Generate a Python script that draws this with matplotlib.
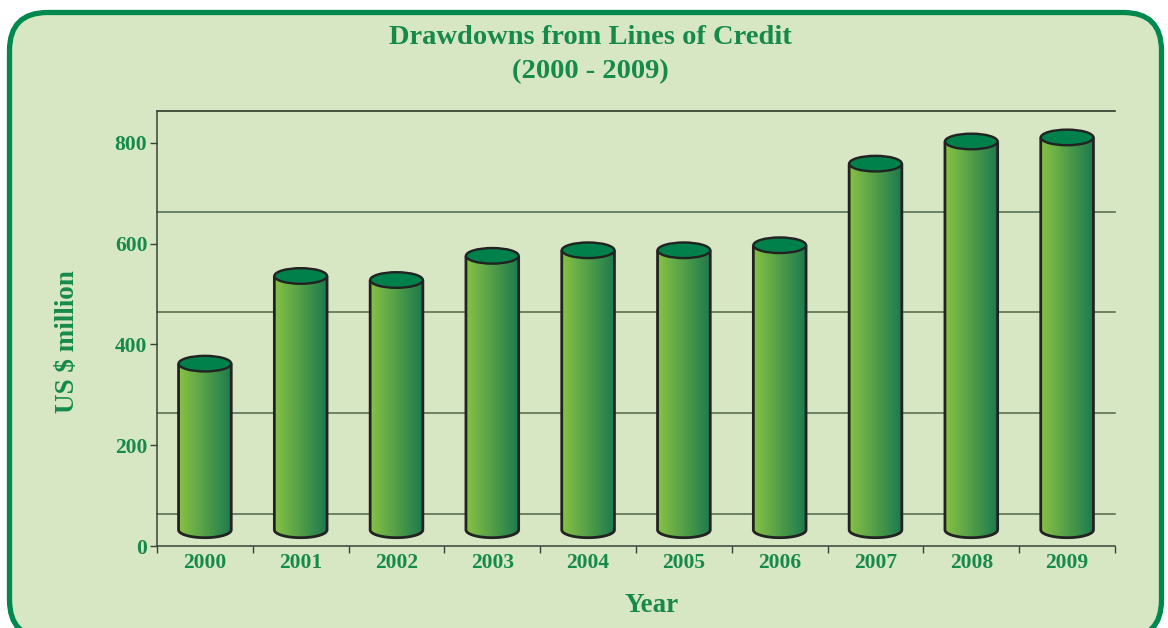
import numpy as np
import matplotlib
matplotlib.use("Agg")
import matplotlib.pyplot as plt
from matplotlib.patches import Polygon, Ellipse, FancyBboxPatch
from matplotlib.transforms import IdentityTransform
from matplotlib.colors import to_rgb

# ---- data ----
years = ['2000', '2001', '2002', '2003', '2004', '2005', '2006', '2007', '2008', '2009']
values = [330, 504, 496, 544, 555, 555, 565, 727, 771, 779]
yticks = [0, 200, 400, 600, 800]
title_line1 = 'Drawdowns from Lines of Credit'
title_line2 = '(2000 - 2009)'
ylabel = 'US $ million'
xlabel = 'Year'

# ---- style ----
W, H = 1168, 628
TXT = '#168a4b'
FONT = 'Liberation Serif'
DEPTH = 64          # back-wall offset (data units)
MID = DEPTH / 2     # cylinders sit at mid depth
BAR_W = 0.55
ELL_H = 31          # ellipse height in data units
C_LEFT = to_rgb('#88c244')
C_RIGHT = to_rgb('#1c7a4d')
TOP_C = '#00804a'
EDGE = '#222222'

fig = plt.figure(figsize=(W / 100, H / 100), dpi=100)
fig.patch.set_facecolor('white')

frame = FancyBboxPatch((9.5, -10), 1152, 625.5,
                       boxstyle='round,pad=0,rounding_size=38',
                       transform=IdentityTransform(),
                       facecolor='#d7e6c3', edgecolor='#00894e',
                       linewidth=3.8, zorder=0)
fig.add_artist(frame)

ax = fig.add_axes([157 / W, 82 / H, 958 / W, 435 / H])
ax.patch.set_visible(False)

# back wall gridlines
for t in yticks:
    col = '#1c2a1c' if t == yticks[-1] else '#4f6749'
    ax.plot([-0.5, 9.5], [t + DEPTH, t + DEPTH], color=col, lw=1.1,
            zorder=1, clip_on=False)

# gradient image
grad = np.zeros((2, 256, 3))
for k in range(3):
    grad[:, :, k] = np.linspace(C_LEFT[k], C_RIGHT[k], 256)

th = np.linspace(np.pi, 2 * np.pi, 60)
for i, v in enumerate(values):
    x0, x1 = i - BAR_W / 2, i + BAR_W / 2
    base, top = MID, v + MID
    arc_x = i + (BAR_W / 2) * np.cos(th)
    arc_y = base + (ELL_H / 2) * np.sin(th)
    verts = [(x0, top)] + list(zip(arc_x, arc_y)) + [(x1, top)]
    body = Polygon(verts, closed=True, facecolor='none', edgecolor='none')
    ax.add_patch(body)
    im = ax.imshow(grad, extent=[x0, x1, base - ELL_H / 2, top], aspect='auto',
                   origin='lower', zorder=3, interpolation='bilinear')
    im.set_clip_path(body)
    outline = Polygon(verts, closed=False, facecolor='none', edgecolor=EDGE,
                      lw=2.0, zorder=4, joinstyle='round')
    ax.add_patch(outline)
    ax.add_patch(Ellipse((i, top), BAR_W, ELL_H, facecolor=TOP_C,
                         edgecolor=EDGE, lw=1.7, zorder=5))

ax.set_xlim(-0.5, 9.5)
ax.set_ylim(0, 863.5)

for s in ['top', 'right']:
    ax.spines[s].set_visible(False)
for s in ['left', 'bottom']:
    ax.spines[s].set_color('#34443a')
    ax.spines[s].set_linewidth(1.1)

ax.set_yticks(yticks)
ax.set_yticklabels([str(t) for t in yticks])
ax.set_xticks(range(len(years)))
ax.set_xticklabels(years)
ax.set_xticks(np.arange(-0.5, len(years)), minor=True)
ax.tick_params(axis='x', which='major', length=0, pad=5)
ax.tick_params(axis='x', which='minor', length=5, width=1.0, color='#34443a', direction='out')
ax.tick_params(axis='y', length=5, width=1.0, color='#34443a', pad=2)
for lab in ax.get_xticklabels() + ax.get_yticklabels():
    lab.set_fontfamily(FONT)
    lab.set_fontweight('bold')
    lab.set_fontsize(15.5)
    lab.set_color(TXT)

fig.text(590 / W, 1 - 38 / H, title_line1, ha='center', va='center',
         fontfamily=FONT, fontweight='bold', fontsize=20.5, color=TXT)
fig.text(590 / W, 1 - 72 / H, title_line2, ha='center', va='center',
         fontfamily=FONT, fontweight='bold', fontsize=20.5, color=TXT)
fig.text(68 / W, 1 - 342 / H, ylabel, ha='center', va='center', rotation=90,
         fontfamily=FONT, fontweight='bold', fontsize=19.5, color=TXT)
fig.text(652 / W, 1 - 605 / H, xlabel, ha='center', va='center',
         fontfamily=FONT, fontweight='bold', fontsize=19.5, color=TXT)

fig.savefig('out.png', dpi=100, facecolor='white')
